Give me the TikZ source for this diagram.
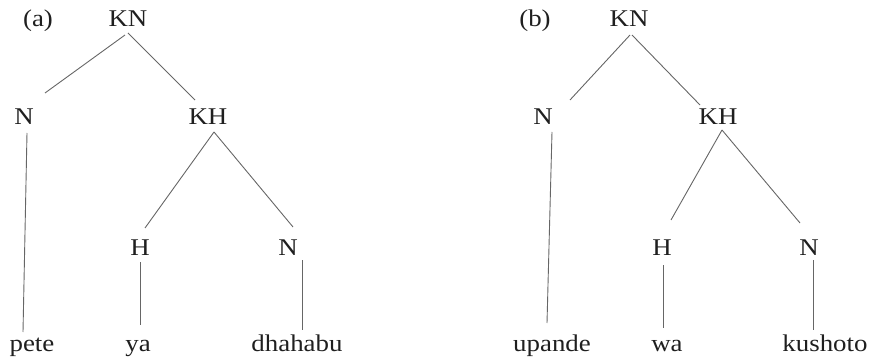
\documentclass[tikz,border=0pt]{standalone}
\usepackage{fontspec}
\setmainfont{Liberation Serif}
\begin{document}
\begin{tikzpicture}[x=1pt,y=-1pt,
  lbl/.style={anchor=base,inner sep=0pt,text=black!88,font=\fontsize{24}{28}\selectfont,xscale=1.12,transform shape},
  edge/.style={draw=black!60,line width=0.9pt}]
\useasboundingbox (0,0) rectangle (878,358);
% (a)
\node[lbl] (la) at (38,27) {(a)};
\node[lbl] (KNa) at (128,27) {KN};
\node[lbl] (Na) at (24,125) {N};
\node[lbl] (KHa) at (208,125) {KH};
\node[lbl] (Ha) at (140,255) {H};
\node[lbl] (Nb) at (288,255) {N};
\node[lbl] (pete) at (32,351) {pete};
\node[lbl] (ya) at (138,351) {ya};
\node[lbl] (dhahabu) at (297,351) {dhahabu};
\draw[edge] ([shift={(-3,8)}]KNa.base) -- ([shift={(21,-32)}]Na.base);
\draw[edge] ([shift={(0,6)}]KNa.base) -- ([shift={(-13,-25)}]KHa.base);
\draw[edge] ([shift={(3,8)}]Na.base) -- ([shift={(-9,-19)}]pete.base);
\draw[edge] ([shift={(6,7)}]KHa.base) -- ([shift={(5,-27)}]Ha.base);
\draw[edge] ([shift={(6,7)}]KHa.base) -- ([shift={(5,-28)}]Nb.base);
\draw[edge] ([shift={(0,7)}]Ha.base) -- ([shift={(2,-26)}]ya.base);
\draw[edge] ([shift={(14,5)}]Nb.base) -- ([shift={(5,-21)}]dhahabu.base);
% (b)
\node[lbl] (lb) at (535,27) {(b)};
\node[lbl] (KNb) at (629,27) {KN};
\node[lbl] (Nc) at (543,125) {N};
\node[lbl] (KHb) at (718,125) {KH};
\node[lbl] (Hb) at (662,255) {H};
\node[lbl] (Nd) at (809,255) {N};
\node[lbl] (upande) at (552,351) {upande};
\node[lbl] (wa) at (667,351) {wa};
\node[lbl] (kushoto) at (825,351) {kushoto};
\draw[edge] ([shift={(1,8)}]KNb.base) -- ([shift={(27,-25)}]Nc.base);
\draw[edge] ([shift={(3,8)}]KNb.base) -- ([shift={(-18,-20)}]KHb.base);
\draw[edge] ([shift={(9,7)}]Nc.base) -- ([shift={(-5,-28)}]upande.base);
\draw[edge] ([shift={(4,5)}]KHb.base) -- ([shift={(9,-35)}]Hb.base);
\draw[edge] ([shift={(4,5)}]KHb.base) -- ([shift={(-9,-32)}]Nd.base);
\draw[edge] ([shift={(1,10)}]Hb.base) -- ([shift={(-4,-23)}]wa.base);
\draw[edge] ([shift={(4,5)}]Nd.base) -- ([shift={(-12,-21)}]kushoto.base);
\end{tikzpicture}
\end{document}
